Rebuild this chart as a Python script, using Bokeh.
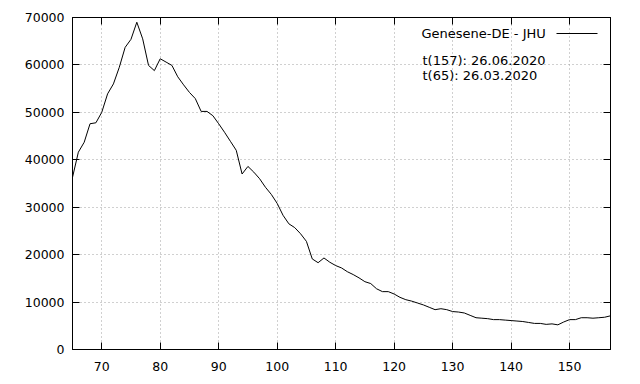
from bokeh.plotting import figure
from bokeh.models import (LinearAxis, Range1d, Label, Arrow, FixedTicker,
                          BasicTickFormatter)
from bokeh.embed import file_html
from bokeh.resources import INLINE

days = list(range(65, 158))
recovered = [
    36300, 41600, 43700, 47600, 47800, 50000, 53900, 56000, 59500, 63700,
    65400, 69000, 65500, 59900, 58800, 61300, 60600, 59900, 57500, 55800,
    54200, 52900, 50200, 50200, 49300, 47600, 45800, 43900, 42000, 37000,
    38600, 37400, 36000, 34200, 32700, 30800, 28300, 26500, 25700, 24400,
    22800, 19100, 18300, 19300, 18400, 17700, 17200, 16400, 15800, 15100,
    14300, 13900, 12800, 12200, 12200, 11700, 11000, 10500, 10200, 9800,
    9400, 8900, 8400, 8600, 8400, 8000, 7900, 7700, 7200, 6700,
    6600, 6500, 6300, 6300, 6200, 6100, 6000, 5900, 5700, 5500,
    5500, 5300, 5400, 5200, 5800, 6300, 6300, 6700, 6700, 6600,
    6700, 6800, 7100,
]
x_ticks = [70, 80, 90, 100, 110, 120, 130, 140, 150]
y_ticks = [0, 10000, 20000, 30000, 40000, 50000, 60000, 70000]
series_title = "Genesene-DE - JHU"
info_lines = ["t(157): 26.06.2020", "t(65): 26.03.2020"]

FONT = "DejaVu Sans"
FS = "12.5px"
FS_KEY = "13px"

p = figure(width=632, height=376, output_backend="svg", toolbar_location=None,
           x_range=Range1d(65, 157), y_range=Range1d(0, 70000),
           min_border_left=72, min_border_right=22, min_border_top=17,
           min_border_bottom=27, x_axis_location=None, y_axis_location=None)
p.background_fill_color = "white"
p.border_fill_color = "white"
p.outline_line_color = "black"
p.outline_line_width = 1

def style_axis(ax, ticks, labels=True, standoff=9):
    ax.ticker = FixedTicker(ticks=ticks)
    ax.axis_line_color = "black"
    ax.major_tick_line_color = "black"
    ax.major_tick_in = 7
    ax.major_tick_out = 0
    ax.minor_tick_line_color = None
    ax.major_label_text_font = FONT
    ax.formatter = BasicTickFormatter(use_scientific=False)
    if labels:
        ax.major_label_text_font_size = FS
        ax.major_label_text_color = "black"
        ax.major_label_standoff = standoff
    else:
        ax.major_label_text_font_size = "1px"
        ax.major_label_text_color = None
        ax.major_label_standoff = 0

xb = LinearAxis(); style_axis(xb, x_ticks, standoff=12); p.add_layout(xb, "below")
yl = LinearAxis(); style_axis(yl, y_ticks, standoff=8); p.add_layout(yl, "left")
xa = LinearAxis(); style_axis(xa, x_ticks, False); p.add_layout(xa, "above")
yr = LinearAxis(); style_axis(yr, y_ticks, False); p.add_layout(yr, "right")

p.xgrid.ticker = FixedTicker(ticks=x_ticks)
p.ygrid.ticker = FixedTicker(ticks=y_ticks)
for g in (p.xgrid, p.ygrid):
    g.grid_line_color = "#a0a0a0"
    g.grid_line_dash = "1 3"
    g.grid_line_width = 1

p.line(days, recovered, line_color="black", line_width=1)

p.add_layout(Label(x=349, y=316, x_units="screen", y_units="screen",
                   text=series_title, text_align="left", text_baseline="middle",
                   text_font=FONT, text_font_size=FS_KEY, text_color="black"))
p.add_layout(Arrow(x_start=484, y_start=316, x_end=525, y_end=316,
                   start_units="screen", end_units="screen", end=None,
                   line_color="black", line_width=1))
for i, t in enumerate(info_lines):
    p.add_layout(Label(x=350, y=289 - i * 15, x_units="screen", y_units="screen",
                       text=t, text_align="left", text_baseline="middle",
                       text_font=FONT, text_font_size=FS_KEY, text_color="black"))

open("out.html", "w").write(file_html(p, INLINE))
